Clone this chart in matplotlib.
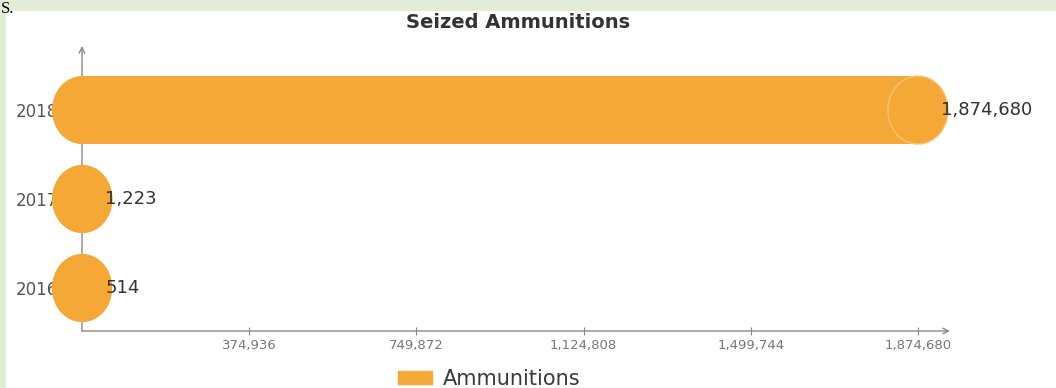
#!/usr/bin/env python3

import matplotlib
matplotlib.use('Agg')
import matplotlib.pyplot as plt
from matplotlib.patches import Ellipse, Rectangle, Patch

# Data
years = ['2016', '2017', '2018']
ammunitions = [514, 1223, 1874680]
x_ticks = [374936, 749872, 1124808, 1499744, 1874680]
series_name = 'Ammunitions'

# Colours
page_green = '#e2ecd7'
bar_orange = '#f5a836'
face_orange = '#f9c46e'
axis_gray = '#8a8a8a'
dark_text = '#333333'

W, H = 1056, 388
fig = plt.figure(figsize=(W / 100, H / 100), dpi=100)
fig.patch.set_facecolor(page_green)

# White panel of the web page, green page shows on top and left
fig.add_artist(Rectangle((6 / W, 0), 1 - 6 / W, (H - 11) / H,
                         transform=fig.transFigure, facecolor='white',
                         edgecolor='none', zorder=0))
fig.text(1 / W, 1 - 13 / H, 'S.', ha='left', va='baseline',
         family='Liberation Serif', fontsize=12, color='black', zorder=5)

# Axes placed in pixels: x axis from 82 to 950, y axis from 331 up to 46
ax = fig.add_axes([82 / W, (H - 331) / H, (950 - 82) / W, (331 - 46) / H])
ax.set_facecolor('none')

px_per_tick = 167.2
xmax = (950 - 82) / px_per_tick * x_ticks[0]
ax.set_xlim(0, xmax)
ax.set_ylim(-0.483, 2.72)

ypos = list(range(len(years)))
bar_h = 68 / 89
cap_w = 60 / px_per_tick * x_ticks[0]

# Cylinder style bars: body plus elliptic caps at both ends
ax.barh(ypos, ammunitions, height=bar_h, color=bar_orange,
        zorder=3, clip_on=False)
for y, v in zip(ypos, ammunitions):
    for cx in (0, v):
        ax.add_patch(Ellipse((cx, y), cap_w, bar_h, facecolor=bar_orange,
                             edgecolor='none', zorder=3, clip_on=False))
    if v > cap_w:
        ax.add_patch(Ellipse((v, y), cap_w, bar_h, facecolor='none',
                             edgecolor=face_orange, lw=1, zorder=3.5,
                             clip_on=False))
    ax.annotate('{:,}'.format(v), xy=(v, y), xytext=(16.5, 0),
                textcoords='offset points', ha='left', va='center',
                fontsize=13, color=dark_text, zorder=4,
                annotation_clip=False)

# Axis lines with open arrow heads
for spine in ax.spines.values():
    spine.set_visible(False)
ax.annotate('', xy=(1, 0), xytext=(0, 0), xycoords='axes fraction',
            arrowprops=dict(arrowstyle='->', color=axis_gray, lw=1,
                            shrinkA=0, shrinkB=0), zorder=2)
ax.annotate('', xy=(0, 1), xytext=(0, 0), xycoords='axes fraction',
            arrowprops=dict(arrowstyle='->', color=axis_gray, lw=1,
                            shrinkA=0, shrinkB=0), zorder=2)

ax.set_xticks(x_ticks)
ax.set_xticklabels(['{:,}'.format(t) for t in x_ticks])
ax.tick_params(axis='x', direction='inout', length=6, width=0.8,
               color=axis_gray, labelsize=9.5, labelcolor='#777777', pad=3)
ax.set_yticks(ypos)
ax.set_yticklabels(years)
ax.tick_params(axis='y', length=0, labelsize=12, labelcolor='#555555', pad=17)

# Title and legend
fig.text(518 / W, 1 - 22 / H, 'Seized Ammunitions', ha='center',
         va='center', fontsize=14, fontweight='bold', color=dark_text)
fs = 15
fs_px = fs * 100 / 72
fig.legend(handles=[Patch(color=bar_orange, label=series_name)],
           loc='center left', bbox_to_anchor=(398 / W, (H - 379) / H),
           frameon=False, borderpad=0, borderaxespad=0, fontsize=fs,
           handlelength=34 / fs_px, handleheight=11 / fs_px,
           handletextpad=11 / fs_px, labelcolor='#3a3a3a')

fig.savefig('out.png', dpi=100, facecolor=fig.get_facecolor())
